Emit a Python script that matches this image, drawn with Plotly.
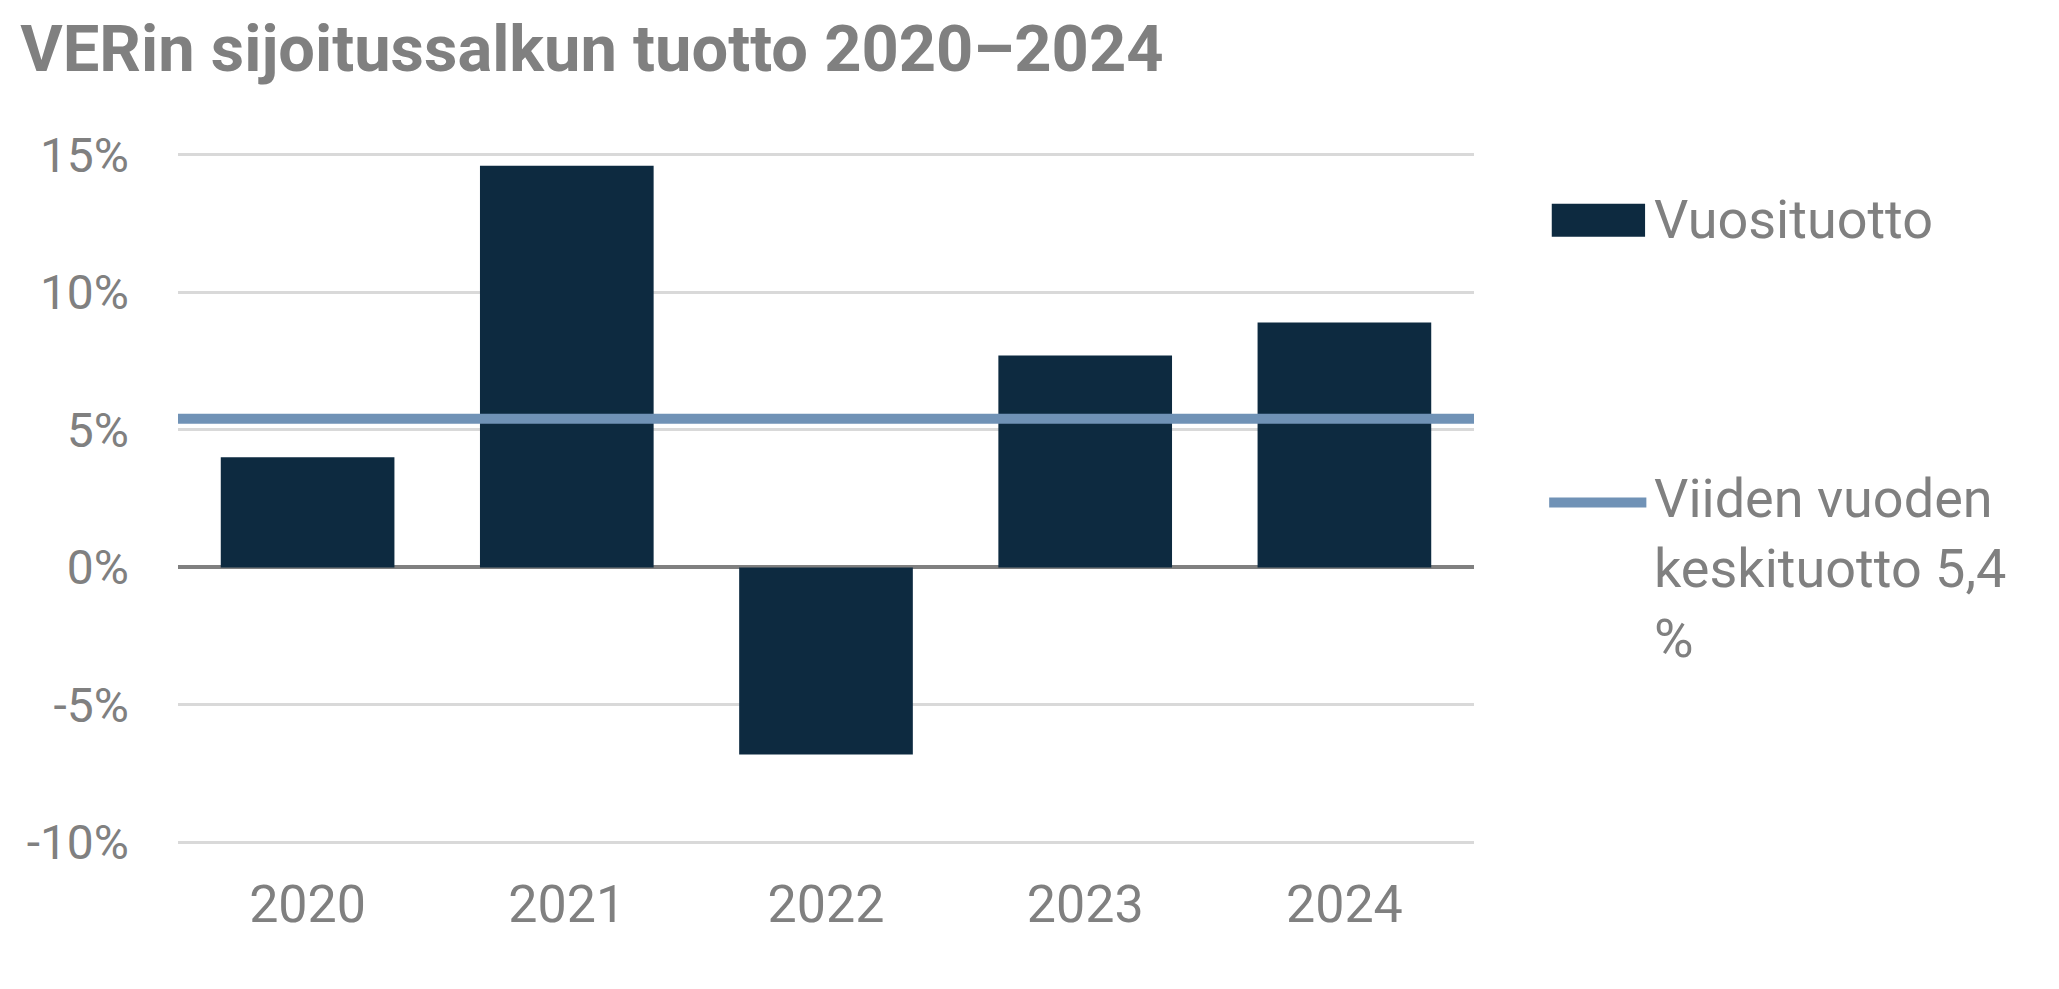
import plotly.graph_objects as go

years = ["2020", "2021", "2022", "2023", "2024"]
annual_return = [4.0, 14.6, -6.8, 7.7, 8.9]
five_year_avg = 5.4
y_ticks = [-10, -5, 0, 5, 10, 15]
y_tick_labels = ["-10%", "-5%", "0%", "5%", "10%", "15%"]

title_text = "VERin sijoitussalkun tuotto 2020\u20132024"
bar_name = "Vuosituotto"
avg_name = "Viiden vuoden<br>keskituotto 5,4<br>%"

BAR_COLOR = "#0d2a40"
AVG_COLOR = "#7092b6"
TEXT_COLOR = "#808080"
FONT = "Roboto"

fig = go.Figure()
fig.add_trace(go.Bar(
    x=years, y=annual_return, name=bar_name,
    marker=dict(color=BAR_COLOR, line=dict(width=0)),
    width=0.67, showlegend=False,
))

# five-year average line across the whole plot area
fig.add_hline(y=five_year_avg, line=dict(color=AVG_COLOR, width=10), layer="above")

# legend (drawn to match the reference's large swatches)
fig.add_shape(type="rect", xref="paper", yref="paper",
              x0=1.060, x1=1.132, y0=0.8686, y1=0.914,
              fillcolor=BAR_COLOR, line=dict(width=0))
fig.add_annotation(xref="paper", yref="paper", x=1.137, y=0.893,
                   text=bar_name, showarrow=False, xanchor="left", yanchor="middle",
                   align="left", font=dict(family=FONT, size=54, color=TEXT_COLOR))
fig.add_shape(type="line", xref="paper", yref="paper",
              x0=1.058, x1=1.133, y0=0.504, y1=0.504,
              line=dict(color=AVG_COLOR, width=10))
fig.add_annotation(xref="paper", yref="paper", x=1.137, y=0.556,
                   text=avg_name, showarrow=False, xanchor="left", yanchor="top",
                   align="left", font=dict(family=FONT, size=54, color=TEXT_COLOR))

fig.update_layout(
    width=2059, height=989,
    margin=dict(l=170, r=2059 - 1466, t=133, b=989 - 862),
    paper_bgcolor="white", plot_bgcolor="white",
    title=dict(text="<b>" + title_text + "</b>", x=0.006, xanchor="left",
               y=0.959, yanchor="middle", yref="container",
               font=dict(family=FONT, size=65, color=TEXT_COLOR)),
    bargap=0.33,
    showlegend=False,
)
fig.update_xaxes(
    type="category", showgrid=False, showline=False, ticks="",
    tickfont=dict(family=FONT, size=52, color=TEXT_COLOR),
    ticklabelstandoff=-1,
)
fig.update_yaxes(
    range=[-11, 15.5], tickvals=y_ticks, ticktext=y_tick_labels,
    showgrid=True, gridcolor="#d9d9d9", gridwidth=3,
    zeroline=True, zerolinecolor="#808080", zerolinewidth=4,
    showline=False, ticks="",
    tickfont=dict(family=FONT, size=48, color=TEXT_COLOR),
    ticklabelstandoff=48,
)

fig.write_html("out.html")
